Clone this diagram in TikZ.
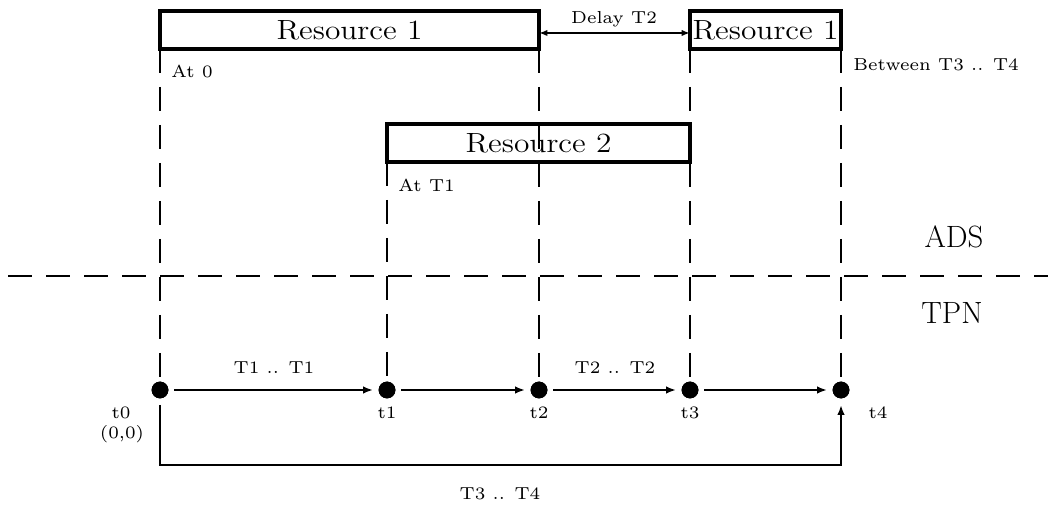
\documentclass[tikz,border=0pt]{standalone}
\usetikzlibrary{arrows.meta}
\newcommand\smtxt[1]{\scalebox{1.45}{\fontsize{6}{7}\selectfont #1}}
\newcommand\bigtxt[1]{\scalebox{1.13}[1]{\fontsize{13.9}{16}\selectfont #1}}
\begin{document}
\begin{tikzpicture}[x=0.5pt,y=-0.5pt,
  res/.style={draw, line width=1.6pt, inner sep=0pt, outer sep=0pt, minimum height=19pt},
  guide/.style={line width=1.35pt, dash pattern=on 12pt off 7pt},
  dot/.style={circle, fill, inner sep=0pt, outer sep=0pt, minimum size=8.4pt},
  lbl/.style={inner sep=0pt},
  layer/.style={inner sep=0pt, font=\fontsize{15.4}{18}\selectfont},
  arr/.style={line width=1.45pt, -{Latex[length=5pt,width=3.8pt]}},
  darr/.style={line width=1.25pt, {Latex[length=4.2pt,width=3.2pt]}-{Latex[length=4.2pt,width=3.2pt]}}]
\useasboundingbox (0,0) rectangle (1048,512);
% boxes
\node[res, minimum width=189.5pt] (r1) at (349.5,30) {\bigtxt{Resource 1}};
\node[res, minimum width=75.5pt] (r1b) at (765.5,30) {\bigtxt{Resource 1}};
\node[res, minimum width=151.5pt] (r2) at (538.5,143) {\bigtxt{Resource 2}};
% dots
\node[dot] (t0) at (160,390) {};
\node[dot] (t1) at (387,390) {};
\node[dot] (t2) at (539,390) {};
\node[dot] (t3) at (690,390) {};
\node[dot] (t4) at (841,390) {};
% guide lines
\draw[guide] (r1.south west) -- (t0.center);
\draw[guide] (r2.south west) -- (t1.center);
\draw[guide] (r1.south east) -- (t2.center);
\draw[guide] (r1b.south west) -- (t3.center);
\draw[guide] (r1b.south east) -- (t4.center);
\coordinate (hl) at (8,276);
\coordinate (hr) at (1048,276);
\draw[guide] (hl) -- (hr);
% redraw dots on top
\foreach \n in {t0,t1,t2,t3,t4} \fill (\n) circle (4.2pt);
% delay arrow
\draw[darr] ([yshift=-1.5pt]r1.east) -- ([yshift=-1.5pt]r1b.west);
\node[lbl] (dl) at (614,19) {\smtxt{Delay T2}};
% ADS labels
\node[lbl, anchor=west] (a0) at (171,71) {\smtxt{At 0}};
\node[lbl, anchor=west] (a1) at (398,185.5) {\smtxt{At T1}};
\node[lbl, anchor=west] (bt) at (853,65) {\smtxt{Between T3 .. T4}};
\node[layer] (ads) at (954,237) {ADS};
\node[layer] (tpn) at (952,313) {TPN};
% TPN arrows
\draw[arr, shorten <=2.8pt, shorten >=2.8pt] (t0) -- (t1);
\draw[arr, shorten <=2.8pt, shorten >=2.8pt] (t1) -- (t2);
\draw[arr, shorten <=2.8pt, shorten >=2.8pt] (t2) -- (t3);
\draw[arr, shorten <=2.8pt, shorten >=2.8pt] (t3) -- (t4);
\coordinate (bl) at (160,465);
\draw[arr, shorten <=3.3pt, shorten >=3.3pt] (t0.south) -- (bl) -| (t4.south);
% TPN labels
\node[lbl] (l01) at (274,368) {\smtxt{T1 .. T1}};
\node[lbl] (l23) at (615,368) {\smtxt{T2 .. T2}};
\node[lbl] (lt0) at (121,413) {\smtxt{t0}};
\node[lbl] (lz) at (122,434) {\smtxt{(0,0)}};
\node[lbl] (lt1) at (387,413) {\smtxt{t1}};
\node[lbl] (lt2) at (539,413) {\smtxt{t2}};
\node[lbl] (lt3) at (690,413) {\smtxt{t3}};
\node[lbl] (lt4) at (878,413) {\smtxt{t4}};
\node[lbl] (l34) at (500,494) {\smtxt{T3 .. T4}};
\end{tikzpicture}
\end{document}
